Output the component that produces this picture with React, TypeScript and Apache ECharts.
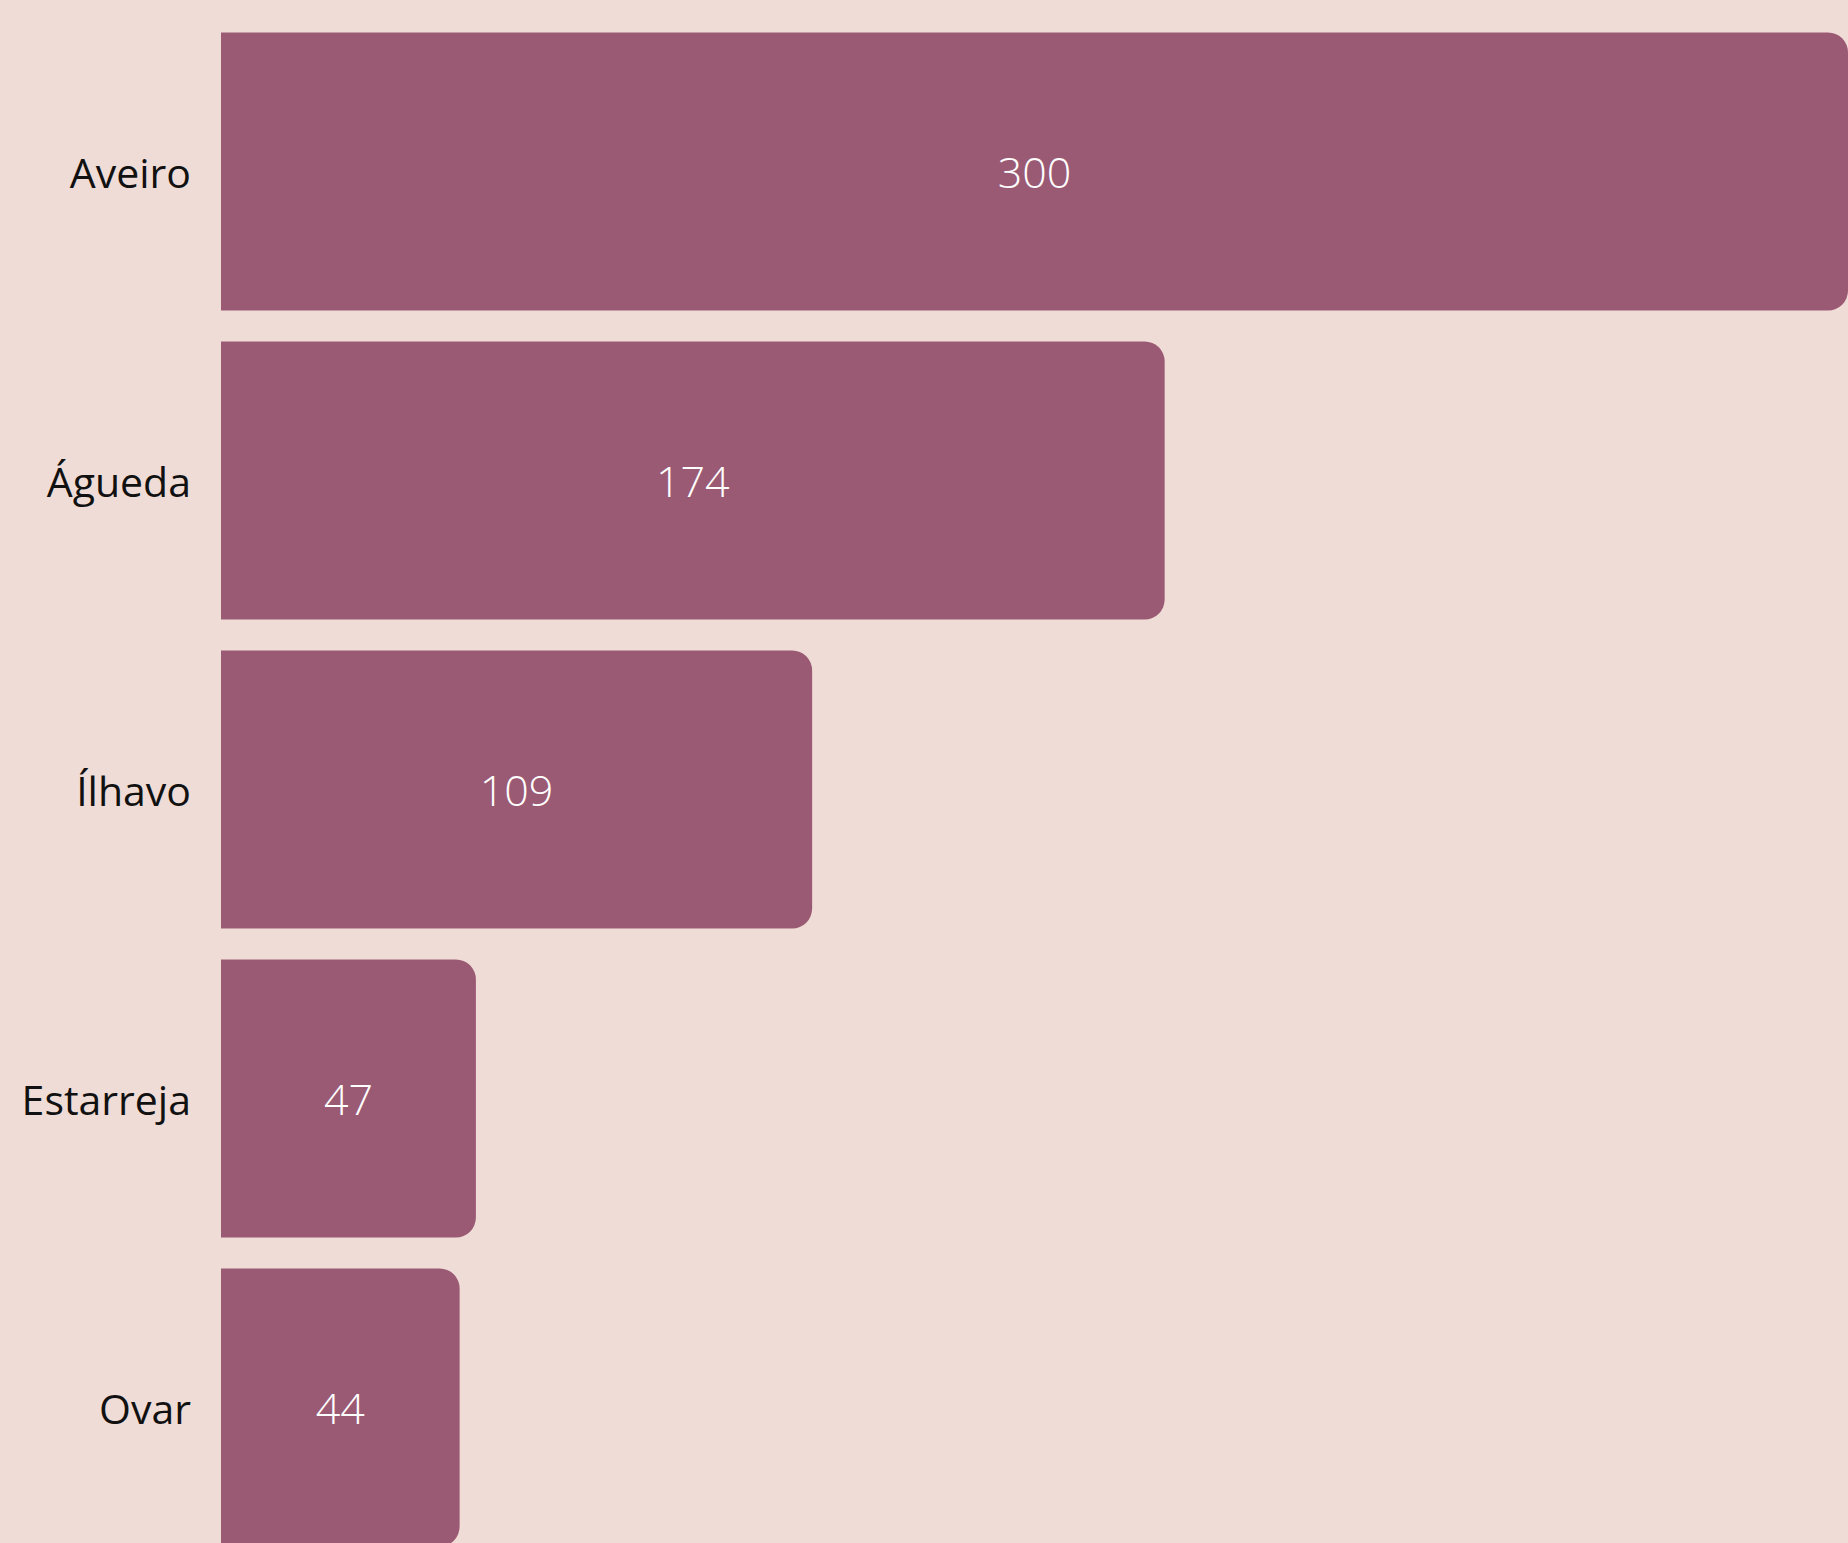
import React, { useEffect, useRef } from "react";
import * as echarts from "echarts";

const categories = ["Aveiro", "Águeda", "Ílhavo", "Estarreja", "Ovar"];
const values = [300, 174, 109, 47, 44];
const axisMax = 300;

const BG = "#F0DCD6";
const BAR = "#9B5A74";
const FONT = "'Open Sans', sans-serif";

export default function App() {
  const ref = useRef<HTMLDivElement>(null);
  useEffect(() => {
    if (!ref.current) return;
    const chart = echarts.init(ref.current, undefined, { renderer: "svg" });
    chart.setOption({
      animation: false,
      backgroundColor: BG,
      grid: { left: 221, right: 0, top: 17, bottom: 0, containLabel: false },
      xAxis: {
        type: "value",
        min: 0,
        max: axisMax,
        show: false,
      },
      yAxis: {
        type: "category",
        data: categories,
        inverse: true,
        axisLine: { show: false },
        axisTick: { show: false },
        splitLine: { show: false },
        axisLabel: {
          margin: 30,
          color: "#111111",
          fontFamily: FONT,
          fontSize: 41,
          fontWeight: 400,
        },
      },
      series: [
        {
          type: "bar",
          data: values,
          barCategoryGap: "10%",
          itemStyle: { color: BAR, borderRadius: [0, 20, 20, 0] },
          label: {
            show: true,
            position: "inside",
            color: "#FFFFFF",
            fontFamily: FONT,
            fontSize: 43,
            fontWeight: 300,
          },
        },
      ],
    });
    return () => chart.dispose();
  }, []);
  return (
    <div
      style={{ position: "fixed", left: 0, top: 0, width: 1848, height: 1543, overflow: "hidden", background: BG }}
    >
      <div ref={ref} style={{ width: 1848, height: 1562 }} />
    </div>
  );
}
